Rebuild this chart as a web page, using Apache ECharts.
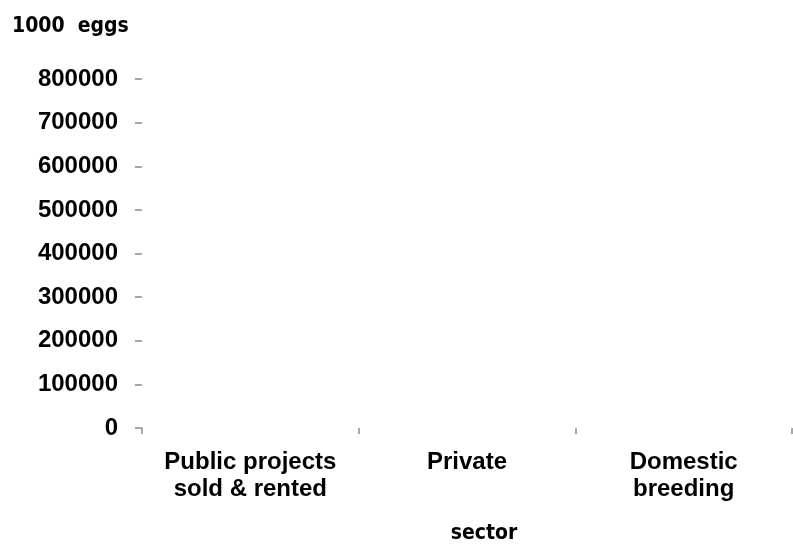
<!DOCTYPE html>
<html>
<head>
    <meta charset="utf-8">
    <title>1000 eggs by sector</title>
    <script src="https://cdn.jsdelivr.net/npm/echarts@6/dist/echarts.min.js"></script>
    <style>
        html, body { margin: 0; padding: 0; background: #fff; }
    </style>
</head>
<body>
    <div id="chart" style="width: 793px;height:544px;"></div>
    <script type="text/javascript">
        // data: nothing is drawn, so every value is 0
        var sectors = ['Public projects\nsold & rented', 'Private', 'Domestic\nbreeding'];
        var eggs = [0, 0, 0];
        var yTicks = [0, 100000, 200000, 300000, 400000, 500000, 600000, 700000, 800000];

        var chart = echarts.init(document.getElementById('chart'));

        var tickStyle = { color: '#8c8c8c', width: 1.5 };

        chart.setOption({
            animation: false,
            title: {
                text: '1000  eggs',
                left: 7,
                top: 11,
                textStyle: {
                    fontFamily: 'DejaVu Sans Condensed',
                    fontWeight: 'bold',
                    fontSize: 21,
                    color: '#000'
                }
            },
            grid: {
                left: 142,
                right: 1,
                top: 79,
                bottom: 116,
                outerBoundsMode: 'none'
            },
            xAxis: {
                type: 'category',
                data: sectors,
                boundaryGap: true,
                name: 'sector',
                nameLocation: 'middle',
                nameGap: 95,
                nameTextStyle: {
                    fontFamily: 'DejaVu Sans Condensed',
                    fontWeight: 'bold',
                    fontSize: 21,
                    color: '#000',
                    padding: [0, 0, 0, 34]
                },
                axisLine: { show: false },
                axisTick: { show: true, interval: 0, length: 6, lineStyle: tickStyle },
                axisLabel: {
                    interval: 0,
                    margin: 21,
                    fontFamily: 'Liberation Sans',
                    fontWeight: 'bold',
                    fontSize: 24,
                    lineHeight: 27,
                    color: '#000'
                }
            },
            yAxis: {
                type: 'value',
                min: yTicks[0],
                max: yTicks[yTicks.length - 1],
                interval: yTicks[1] - yTicks[0],
                splitLine: { show: false },
                axisLine: { show: false },
                axisTick: { show: true, length: 7, lineStyle: tickStyle },
                axisLabel: {
                    margin: 24,
                    fontFamily: 'Liberation Sans',
                    fontWeight: 'bold',
                    fontSize: 24,
                    color: '#000',
                    formatter: function (v) { return String(v); }
                }
            },
            series: [{
                name: '1000 eggs',
                type: 'bar',
                data: eggs,
                itemStyle: { color: '#4472c4' }
            }]
        });
    </script>
</body>
</html>
